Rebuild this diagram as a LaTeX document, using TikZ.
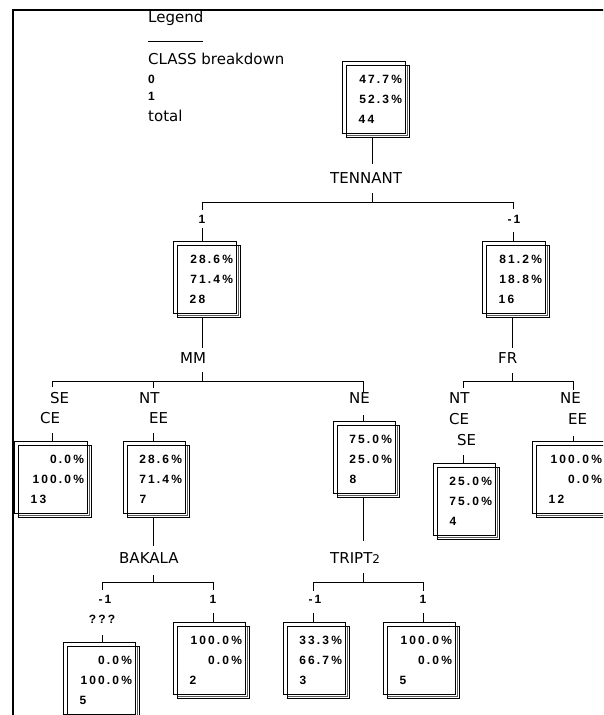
\documentclass[tikz,border=0pt]{standalone}
\usepackage{fontspec}
\setmainfont{DejaVu Sans}
\newfontfamily\numfam[LetterSpace=18]{Liberation Sans}
\newcommand\nf{\numfam\bfseries\fontsize{12}{20}\selectfont}
\newcommand\lf{\fontsize{15}{21}\selectfont}
\tikzset{
  frameline/.style={line width=2pt},
  conn/.style={line width=0.9pt},
  backbox/.style={draw, line width=0.7pt, inner sep=0pt, minimum height=72pt, anchor=north west},
  midbox/.style={draw=black!65, line width=0.8pt, inner sep=0pt, minimum height=70pt, anchor=north west},
  frontbox/.style={draw, line width=1.2pt, inner sep=0pt, minimum height=72pt, anchor=north west},
  pct/.style={anchor=base east, inner sep=0pt, font=\nf},
  cnt/.style={anchor=base west, inner sep=0pt, font=\nf},
  splitlab/.style={anchor=base west, inner sep=0pt, font=\lf},
  brlab/.style={anchor=base west, inner sep=0pt, font=\lf},
  numlab/.style={anchor=base, inner sep=0pt, font=\nf},
}
\newcommand\treebox[7]{%
  \node[backbox, minimum width=#4pt] (#1) at (#2,#3) {};
  \node[midbox, minimum width=#4pt-2pt] (#1m) at (#2+4,#3+4) {};
  \node[frontbox, minimum width=#4pt] (#1f) at (#2+4,#3+4) {};
  \node[pct] (#1p) at ([shift={(-8,18.5)}]#1f.north east) {#5};
  \node[pct] (#1q) at ([shift={(-8,38.5)}]#1f.north east) {#6};
  \node[cnt] (#1c) at ([shift={(12.5,58.5)}]#1f.north west) {#7};
}
\begin{document}
\begin{tikzpicture}[x=1pt,y=-1pt]
\useasboundingbox (0,0) rectangle (603,715);
\clip (0,0) rectangle (603,715);
% frame
\draw[frameline] (13,716) -- (13,10) -- (604,10);
% legend
\node[anchor=base west, inner sep=0pt, font=\lf] (lg) at (148,22.7) {Legend};
\draw[line width=0.8pt] (148,41) -- (203,41);
\node[anchor=base west, inner sep=0pt, font=\lf] (lgc) at (148,64) {CLASS breakdown};
\node[anchor=base west, inner sep=0pt, font=\nf] (lg0) at (148,83) {0};
\node[anchor=base west, inner sep=0pt, font=\nf] (lg1) at (148,100.5) {1};
\node[anchor=base west, inner sep=0pt, font=\lf] (lgt) at (148,121) {total};
% boxes
\treebox{n0}{342}{61}{63}{47.7\%}{52.3\%}{44}
\treebox{n1}{173}{241}{63}{28.6\%}{71.4\%}{28}
\treebox{n2}{482}{241}{63}{81.2\%}{18.8\%}{16}
\treebox{n3}{14}{441}{73}{0.0\%}{100.0\%}{13}
\treebox{n4}{123}{441}{62}{28.6\%}{71.4\%}{7}
\treebox{n5}{333}{421}{62}{75.0\%}{25.0\%}{8}
\treebox{n6}{433}{463}{62}{25.0\%}{75.0\%}{4}
\treebox{n7}{532}{441}{73}{100.0\%}{0.0\%}{12}
\treebox{n8}{63}{642}{72}{0.0\%}{100.0\%}{5}
\treebox{n9}{173}{622}{72}{100.0\%}{0.0\%}{2}
\treebox{n10}{283}{622}{62}{33.3\%}{66.7\%}{3}
\treebox{n11}{383}{622}{72}{100.0\%}{0.0\%}{5}
% split labels
\node[splitlab] (tennant) at (330,183.5) {TENNANT};
\node[splitlab] (mm) at (180,363.3) {MM};
\node[splitlab] (fr) at (498,363.3) {FR};
\node[splitlab] (bakala) at (119,563) {BAKALA};
\node[splitlab] (tript) at (330,563) {TRIPT{\fontsize{12}{12}\selectfont 2}};
% branch labels
\node[numlab] (l1) at (202,223) {1};
\node[numlab] (l2) at (514,223) {-1};
\node[brlab] (l3a) at (50,403.5) {SE};
\node[brlab] (l3b) at (40,423.5) {CE};
\node[brlab] (l4a) at (139,403.5) {NT};
\node[brlab] (l4b) at (149,423.5) {EE};
\node[brlab] (l5) at (349,403.5) {NE};
\node[brlab] (l6a) at (449,403.5) {NT};
\node[brlab] (l6b) at (449,424) {CE};
\node[brlab] (l6c) at (457,445) {SE};
\node[brlab] (l7a) at (560,403.5) {NE};
\node[brlab] (l7b) at (568,424) {EE};
\node[numlab] (l8a) at (105,603) {-1};
\node[numlab] (l8b) at (102,623) {???};
\node[numlab] (l9) at (213,603) {1};
\node[numlab] (l10) at (315,603) {-1};
\node[numlab] (l11) at (423,603) {1};
% junctions and bar ends
\coordinate (j0) at (372.5,202);
\coordinate (b0l) at (202,202);
\coordinate (b0r) at (513,202);
\coordinate (j1) at (202.5,381);
\coordinate (b1a) at (52,381);
\coordinate (b1b) at (153,381);
\coordinate (b1c) at (363,381);
\coordinate (j2) at (512.5,381);
\coordinate (b2a) at (463,381);
\coordinate (b2b) at (573,381);
\coordinate (j4) at (153,582);
\coordinate (b4a) at (102,582);
\coordinate (b4b) at (213,582);
\coordinate (j5) at (363,582);
\coordinate (b5a) at (313,582);
\coordinate (b5b) at (423,582);
% root split
\draw[conn] (n0f.south -| j0) -- ++(0,26);
\draw[conn] (j0) -- ++(0,-9);
\draw[conn] (b0l) ++(0,8) -- (b0l) -- (b0r) -- ++(0,7);
\draw[conn] (n1.north -| b0l) -- ++(0,-13);
\draw[conn] (n2.north -| b0r) -- ++(0,-9);
% MM split
\draw[conn] (n1f.south -| j1) -- ++(0,30);
\draw[conn] (j1) -- ++(0,-9);
\draw[conn] (b1a) ++(0,6) -- (b1a) -- (b1c) -- ++(0,11);
\draw[conn] (b1b) -- ++(0,7);
\draw[conn] (n3.north -| b1a) -- ++(0,-8);
\draw[conn] (n4.north -| b1b) -- ++(0,-8);
\draw[conn] (n5.north -| b1c) -- ++(0,-6);
% FR split
\draw[conn] (n2f.south -| j2) -- ++(0,30);
\draw[conn] (j2) -- ++(0,-8);
\draw[conn] (b2a) ++(0,7) -- (b2a) -- (b2b) -- ++(0,9);
\draw[conn] (n6.north -| b2a) -- ++(0,-8);
\draw[conn] (n7.north -| b2b) -- ++(0,-5);
% BAKALA split
\draw[conn] (n4f.south -| j4) -- ++(0,28);
\draw[conn] (j4) -- ++(0,-7);
\draw[conn] (b4a) ++(0,8) -- (b4a) -- (b4b) -- ++(0,8);
\draw[conn] (n8.north -| b4a) -- ++(0,-7);
\draw[conn] (n9.north -| b4b) -- ++(0,-9);
% TRIPT2 split
\draw[conn] (n5f.south -| j5) -- ++(0,43);
\draw[conn] (j5) -- ++(0,-9);
\draw[conn] (b5a) ++(0,9) -- (b5a) -- (b5b) -- ++(0,9);
\draw[conn] (n10.north -| b5a) -- ++(0,-9);
\draw[conn] (n11.north -| b5b) -- ++(0,-9);
\end{tikzpicture}
\end{document}
